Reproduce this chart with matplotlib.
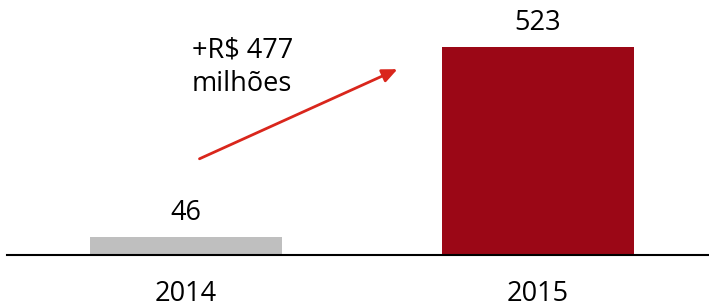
import matplotlib.pyplot as plt

plt.rcParams['font.family'] = ['Open Sans', 'DejaVu Sans']

years = ['2014', '2015']
values = [46, 523]
colors = ['#BFBFBF', '#9B0716']
growth_label = '+R$ 477\nmilhões'

fig = plt.figure(figsize=(7.09, 3.08), dpi=100)
ax = fig.add_axes([0.01, 0.172, 0.99, 0.828])

x = range(len(years))
bars = ax.bar(x, values, width=0.548, color=colors)

for xi, v in zip(x, values):
    ax.text(xi, v + 24, str(v), ha='center', va='bottom', fontsize=19.5)

# growth arrow between the bars
ax.annotate('', xy=(0.608, 470), xytext=(0.031, 239),
            arrowprops=dict(arrowstyle='-|>,head_length=0.9,head_width=0.4',
                            color='#D9261C', lw=2))
ax.text(0.017, 472, growth_label, ha='left', va='center', fontsize=19.5,
        linespacing=1.25)

ax.set_xlim(-0.5085, 1.486)
ax.set_ylim(0, 641)
ax.set_xticks(list(x))
ax.set_xticklabels(years, fontsize=19.5)
ax.tick_params(axis='x', length=0, pad=18)
ax.set_yticks([])
for side in ['top', 'right', 'left']:
    ax.spines[side].set_visible(False)
ax.spines['bottom'].set_linewidth(1.5)

fig.savefig('out.png', dpi=100)
